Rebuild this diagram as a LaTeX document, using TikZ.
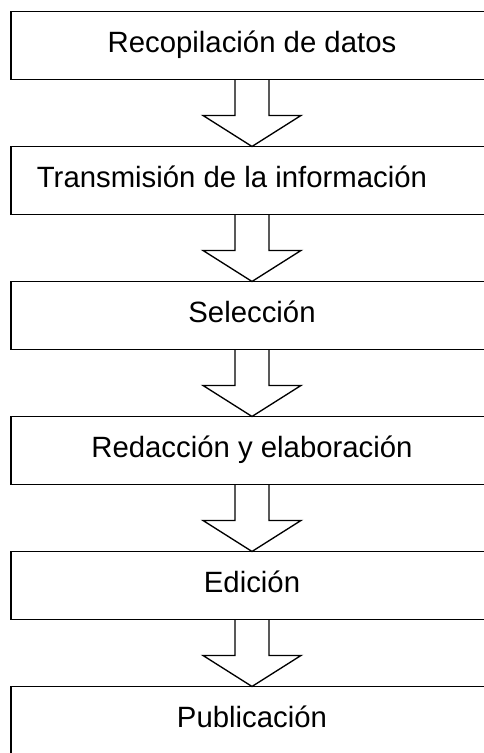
\documentclass[tikz,border=0pt]{standalone}
\usepackage{fontspec}
\setmainfont{Liberation Sans}
\usetikzlibrary{positioning,calc}

\begin{document}
\begin{tikzpicture}[stage/.style={draw, line width=1pt, rectangle, minimum width=361.5pt, minimum height=51pt, inner sep=0pt, outer sep=0pt, text height=16pt, text depth=6pt, font=\fontsize{22}{26}\selectfont}, blockarrow/.style={line width=1pt, to path={($(\tikztostart.south)+(-12.75pt,0)$) -- ($(\tikztotarget.north)+(-12.75pt,23.25pt)$) -- ++(-24pt,0) -- (\tikztotarget.north) -- ++(36.75pt,23.25pt) -- ++(-24pt,0) -- ($(\tikztostart.south)+(12.75pt,0)$)}}]
    \useasboundingbox (0,0) rectangle (363pt,-564.75pt);
    \clip (0,0) rectangle (363pt,-564.75pt);
    
    \node[stage] (S1) at (189pt,-34.1pt) {Recopilación de datos};
    \node[stage, below=50.25pt of S1] (S2) {Transmisión de la información\hspace*{30pt}};
    \node[stage, below=50.25pt of S2] (S3) {Selección};
    \node[stage, below=50.25pt of S3] (S4) {Redacción y elaboración};
    \node[stage, below=50.25pt of S4] (S5) {Edición};
    \node[stage, below=50.25pt of S5] (S6) {Publicación};
    
    \path[draw]
        (S1) edge[blockarrow] (S2)
        (S2) edge[blockarrow] (S3)
        (S3) edge[blockarrow] (S4)
        (S4) edge[blockarrow] (S5)
        (S5) edge[blockarrow] (S6)
        ;
    
\end{tikzpicture}
\end{document}
